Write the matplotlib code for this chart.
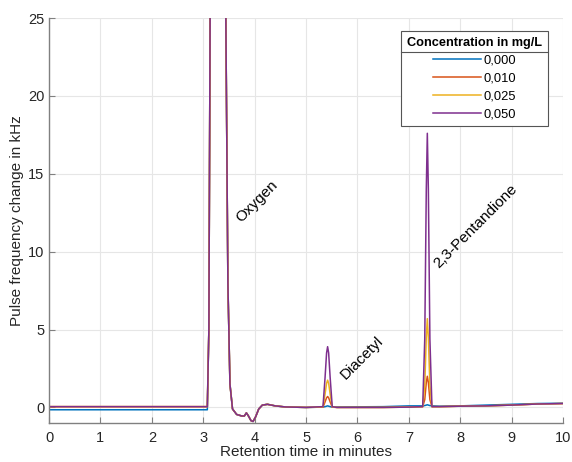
import matplotlib
matplotlib.use('Agg')
import matplotlib.pyplot as plt
from matplotlib.lines import Line2D

plt.rcParams['font.family'] = ['Liberation Sans', 'DejaVu Sans']

# retention time in minutes (shared by all traces)
t = [0, 3.08, 3.11, 3.14, 3.2, 3.3, 3.4, 3.44, 3.48, 3.52,
     3.57, 3.65, 3.75, 3.8, 3.84, 3.88, 3.93, 3.97, 4.02, 4.08,
     4.15, 4.25, 4.4, 4.6, 5.0,
     5.33, 5.37, 5.40, 5.42, 5.44, 5.47, 5.51,
     5.6, 6.5, 7.0,
     7.27, 7.31, 7.34, 7.36, 7.38, 7.41, 7.45,
     7.6, 8.0, 8.5, 9.0, 9.5, 10.0]

# oxygen peak and dip, same for every concentration (t index 2..24)
oxygen = [5, 30, 40, 40, 35, 25, 8, 1.5,
          -0.1, -0.45, -0.55, -0.55, -0.35, -0.55, -0.85, -0.9, -0.6, -0.1,
          0.15, 0.2, 0.1, 0.03, 0.0]

c000 = ([-0.15, -0.15] + oxygen
        + [0.02, 0.05, 0.08, 0.1, 0.08, 0.05, 0.02]
        + [0.03, 0.05, 0.1]
        + [0.1, 0.12, 0.15, 0.17, 0.15, 0.12, 0.1]
        + [0.08, 0.1, 0.15, 0.2, 0.25, 0.27])
c010 = ([0.05, 0.05] + oxygen
        + [0.02, 0.35, 0.62, 0.7, 0.62, 0.35, 0.02]
        + [0.0, 0.0, 0.02]
        + [0.05, 0.5, 1.6, 2.0, 1.6, 0.5, 0.05]
        + [0.05, 0.08, 0.1, 0.15, 0.22, 0.25])
c025 = ([0.05, 0.05] + oxygen
        + [0.03, 0.85, 1.55, 1.75, 1.55, 0.85, 0.03]
        + [0.0, 0.0, 0.02]
        + [0.05, 1.4, 4.5, 5.7, 4.5, 1.4, 0.05]
        + [0.05, 0.08, 0.1, 0.15, 0.22, 0.25])
c050 = ([0.05, 0.05] + oxygen
        + [0.05, 1.9, 3.5, 3.9, 3.5, 1.9, 0.05]
        + [0.0, 0.0, 0.02]
        + [0.05, 4.4, 14.0, 17.6, 14.0, 4.4, 0.05]
        + [0.05, 0.08, 0.1, 0.15, 0.22, 0.25])

labels = ['0,000', '0,010', '0,025', '0,050']
colors = ['#0072BD', '#D95319', '#EDB120', '#7E2F8E']

fig = plt.figure(figsize=(5.72, 4.62), dpi=100)
ax = fig.add_axes([0.0857, 0.0844, 0.8986, 0.8766])

for y, lab, col in zip([c000, c010, c025, c050], labels, colors):
    ax.plot(t, y, color=col, lw=1.1, label=lab)

ax.set_xlim(0, 10)
ax.set_ylim(-1, 25)
ax.set_xticks(range(0, 11))
ax.set_yticks([0, 5, 10, 15, 20, 25])
ax.grid(True, color='#e6e6e6', lw=0.8)
ax.set_axisbelow(True)
for s in ['top', 'right']:
    ax.spines[s].set_visible(False)
for s in ['left', 'bottom']:
    ax.spines[s].set_color('#808080')
    ax.spines[s].set_linewidth(1.0)
ax.tick_params(direction='in', length=4, color='#808080', labelsize=10.5,
               labelcolor='#262626')
ax.tick_params(axis='x', pad=6)
ax.set_xlabel('Retention time in minutes', fontsize=11, color='#262626', labelpad=0)
ax.set_ylabel('Pulse frequency change in kHz', fontsize=11, color='#262626', labelpad=3)

ax.text(4.05, 13.2, 'Oxygen', rotation=45, ha='center', va='center', fontsize=11)
ax.text(6.08, 3.2, 'Diacetyl', rotation=45, ha='center', va='center', fontsize=11)
ax.text(8.3, 11.6, '2,3-Pentandione', rotation=45, ha='center', va='center', fontsize=11)

leg = ax.legend(title='Concentration in mg/L', loc='upper right',
                bbox_to_anchor=(0.971, 0.968), borderaxespad=0, fontsize=9.3,
                title_fontproperties={'weight': 'bold', 'size': 9.2},
                fancybox=False, edgecolor='#555555', framealpha=1,
                handlelength=3.7, labelspacing=0.45, handletextpad=0.25,
                borderpad=0.45, alignment='center')
leg.get_frame().set_linewidth(0.8)

# separator line under the legend title
fig.canvas.draw()
r = fig.canvas.get_renderer()
fb = leg.get_frame().get_window_extent(r)
tb = leg.get_title().get_window_extent(r)
yl = tb.y0 - 3
inv = fig.transFigure.inverted()
x0, y0 = inv.transform((fb.x0, yl))
x1, _ = inv.transform((fb.x1, yl))
fig.add_artist(Line2D([x0, x1], [y0, y0], color='#555555', lw=0.8))

fig.savefig('out.png', dpi=100)
